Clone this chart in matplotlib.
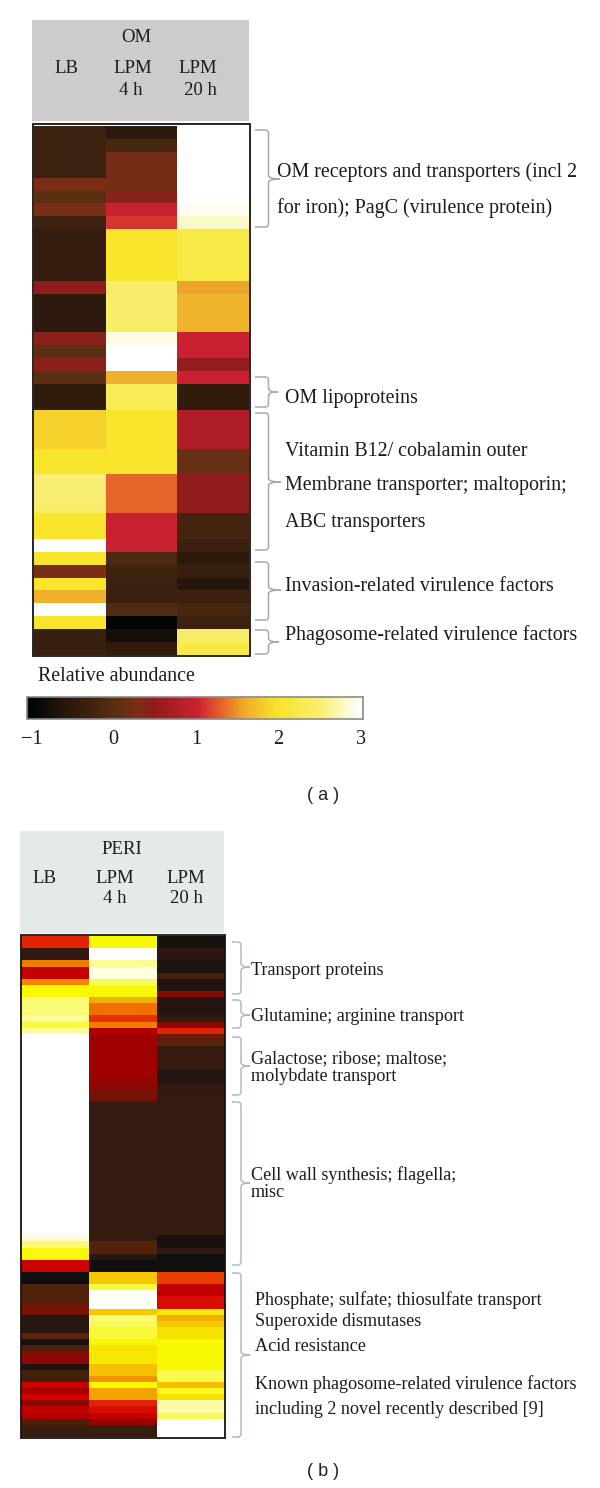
import numpy as np
import matplotlib
matplotlib.use('Agg')
import matplotlib.pyplot as plt
from matplotlib.colors import LinearSegmentedColormap, Normalize
from matplotlib.patches import PathPatch, Rectangle
from matplotlib.path import Path

W, H = 600, 1488
SERIF = 'Liberation Serif'

conditions = ['LB', 'LPM', 'LPM']
times = ['', '4 h', '20 h']

# panel (a), 41 proteins, top to bottom
om_lb = [-0.3, -0.3, -0.3, -0.3, 0.25, 0.0, 0.25, -0.3, -0.45, -0.45, -0.45, -0.45, 0.5, -0.55,
         -0.55, -0.55, 0.45, 0.0, 0.45, 0.0, -0.5, -0.5, 1.85, 1.85, 1.85, 2.0, 2.0, 2.5, 2.5, 2.45,
         2.0, 2.0, 3.0, 2.0, 0.25, 2.0, 1.6, 3.0, 2.0, -0.4, -0.4]
om_4h = [-0.55, -0.2, 0.2, 0.2, 0.2, 0.4, 1.0, 1.1, 2.0, 2.0, 2.0, 2.0, 2.45, 2.45,
         2.45, 2.45, 2.9, 3.0, 3.0, 1.6, 2.3, 2.3, 2.0, 2.0, 2.0, 2.0, 2.0, 1.3, 1.3, 1.3,
         1.0, 1.0, 1.0, -0.15, -0.3, -0.3, -0.35, -0.1, -1.0, -0.8, -0.5]
om_20h = [3.0, 3.0, 3.0, 3.0, 3.0, 3.0, 2.95, 2.8, 2.2, 2.2, 2.2, 2.2, 1.55, 1.65,
          1.65, 1.65, 1.0, 1.0, 0.55, 1.0, -0.5, -0.5, 0.75, 0.75, 0.75, 0.1, 0.1, 0.5, 0.5, 0.5,
          -0.25, -0.25, -0.35, -0.55, -0.4, -0.65, -0.35, -0.2, -0.3, 2.45, 2.2]

# panel (b), 82 proteins, top to bottom
peri_lb = [0.95, 0.95, -0.4, -0.4, 1.35, 0.7, 0.7, 1.4, 2.0, 2.0, 2.4, 2.4, 2.4, 2.55, 2.2, 2.55,
           3.0, 3.0, 3.0, 3.0, 3.0, 3.0, 3.0, 3.0, 3.0, 3.0, 3.0, 3.0, 3.0, 3.0, 3.0, 3.0,
           3.0, 3.0, 3.0, 3.0, 3.0, 3.0, 3.0, 3.0, 3.0, 3.0, 3.0, 3.0, 3.0, 3.0, 3.0, 3.0,
           3.0, 2.8, 2.4, 2.05, 2.0, 0.75, 0.75, -0.95, -0.95, -0.1, -0.1, -0.1, 0.2, 0.2, -0.55, -0.55,
           -0.55, 0.0, -0.8, -0.1, 0.35, 0.35, -0.7, -0.2, -0.2, 0.75, 0.55, 0.8, 0.3, 0.7, 0.6, -0.1,
           -0.3, -0.3]
peri_4h = [2.0, 2.0, 3.0, 3.0, 2.5, 2.85, 2.85, 2.3, 2.0, 2.0, 1.55, 1.3, 1.3, 1.0, 1.35, 0.6,
           0.5, 0.5, 0.5, 0.5, 0.5, 0.5, 0.5, 0.38, 0.38, 0.2, 0.2, -0.35, -0.35, -0.35, -0.35, -0.35,
           -0.35, -0.35, -0.35, -0.35, -0.35, -0.35, -0.35, -0.35, -0.35, -0.35, -0.35, -0.35, -0.35, -0.35, -0.35, -0.35,
           -0.35, -0.35, -0.05, -0.05, -0.55, -0.95, -0.95, 1.7, 1.7, 2.2, 2.95, 2.95, 2.95, 1.7, 2.4, 2.3,
           2.2, 2.2, 2.0, 1.85, 1.9, 1.9, 1.65, 1.65, 1.45, 2.0, 1.5, 1.5, 0.95, 0.85, 0.7, 0.45,
           -0.3, -0.3]
peri_20h = [-0.85, -0.85, -0.5, -0.5, -0.7, -0.7, -0.2, -0.75, -0.6, 0.3, -0.6, -0.6, -0.6, -0.4, 0.35, 0.95,
            0.1, 0.0, -0.35, -0.35, -0.35, -0.35, -0.6, -0.6, -0.4, -0.4, -0.35, -0.35, -0.35, -0.35, -0.35, -0.35,
            -0.35, -0.35, -0.35, -0.35, -0.35, -0.35, -0.35, -0.35, -0.35, -0.35, -0.35, -0.35, -0.35, -0.35, -0.35, -0.35,
            -0.35, -0.8, -0.8, -0.45, -0.95, -0.95, -0.95, 1.05, 1.05, 0.7, 0.7, 0.85, 0.85, 1.9, 1.55, 1.7,
            1.85, 1.85, 2.0, 2.0, 2.0, 2.0, 2.0, 2.25, 2.25, 1.65, 2.1, 1.85, 2.6, 2.6, 2.3, 3.0,
            3.0, 3.0]

cbar_ticks = [-1, 0, 1, 2, 3]

colors_a = [(-1, '#050508'), (-0.6, '#2a180c'), (-0.3, '#3f2210'), (0, '#5a3012'), (0.25, '#7a2e16'),
            (0.5, '#8f1d1c'), (0.8, '#b51f2a'), (1.0, '#c91f30'), (1.3, '#e5642a'), (1.6, '#f0ae2c'),
            (2.0, '#f8e52a'), (2.5, '#f8ee70'), (3.0, '#ffffff')]
colors_b = [(-1, '#0e0e0e'), (-0.6, '#251510'), (-0.3, '#3a1c10'), (0, '#5a2408'), (0.3, '#850a05'),
            (0.5, '#a00000'), (0.8, '#d40000'), (1.0, '#e63000'), (1.3, '#f07000'), (1.6, '#f5b800'),
            (2.0, '#f8f800'), (2.5, '#fbfb90'), (3.0, '#ffffff')]


def make_cmap(name, stops):
    return LinearSegmentedColormap.from_list(name, [((v + 1) / 4, c) for v, c in stops])


cmap_a = make_cmap('om', colors_a)
cmap_b = make_cmap('peri', colors_b)
norm = Normalize(-1, 3)

fig = plt.figure(figsize=(W / 100, H / 100), dpi=100, facecolor='white')


def px_axes(x0, y0, x1, y1, **kw):
    return fig.add_axes([x0 / W, 1 - y1 / H, (x1 - x0) / W, (y1 - y0) / H], **kw)


def heatmap(box, columns, cmap):
    ax = px_axes(*box)
    ax.pcolormesh(np.array(columns).T, cmap=cmap, norm=norm, rasterized=True)
    ax.invert_yaxis()
    ax.set_xticks([])
    ax.set_yticks([])
    for s in ax.spines.values():
        s.set_visible(False)
    return ax


heatmap((34, 126, 249, 655), [om_lb, om_4h, om_20h], cmap_a)
heatmap((21, 936, 225, 1437), [peri_lb, peri_4h, peri_20h], cmap_b)

# overlay in pixel coordinates for boxes, braces and labels
over = fig.add_axes([0, 0, 1, 1], facecolor='none')
over.set_xlim(0, W)
over.set_ylim(H, 0)
over.axis('off')

over.add_patch(Rectangle((32, 20), 217, 101, fc='#cdcbcb', ec='none'))
over.add_patch(Rectangle((20, 831), 204, 102, fc='#e4eae8', ec='none'))
over.add_patch(Rectangle((33, 124), 216.5, 531.5, fc='none', ec='#141414', lw=1.3))
over.add_patch(Rectangle((20.5, 935), 204.5, 502.5, fc='none', ec='#141414', lw=1.3))


def brace(x0, spine, tip, top, mid, bottom, color):
    r = 3.5
    verts = [(x0, top), (spine - r, top), (spine, top), (spine, top + r),
             (spine, mid - r), (spine, mid), (tip, mid),
             (spine, mid), (spine, mid + r),
             (spine, bottom - r), (spine, bottom), (spine - r, bottom), (x0, bottom)]
    codes = [Path.MOVETO, Path.LINETO, Path.CURVE3, Path.CURVE3,
             Path.LINETO, Path.CURVE3, Path.CURVE3,
             Path.CURVE3, Path.CURVE3,
             Path.LINETO, Path.CURVE3, Path.CURVE3, Path.LINETO]
    over.add_patch(PathPatch(Path(verts, codes), fc='none', ec=color, lw=1.1))


for top, mid, bottom, tip in [(130, 179, 227, 280), (377, 392, 407, 278), (413, 482, 550, 281),
                              (562, 590, 620, 281), (630, 642, 654, 279)]:
    brace(255, 268.5, tip, top, mid, bottom, '#a9a9a9')
for top, mid, bottom in [(942, 967, 994), (1000, 1015, 1028), (1037, 1066, 1095),
                         (1102, 1183, 1265), (1273, 1355, 1437)]:
    brace(232, 241, 250, top, mid, bottom, '#aebcbc')


def label(x, y, s, size=12.5, **kw):
    kw.setdefault('va', 'baseline')
    kw.setdefault('ha', 'left')
    over.text(x, y, s, family=SERIF, fontsize=size, color='#1c1c1c', **kw)


def header(title, tx, ty, xs, xs2, y1, y2):
    label(tx, ty, title, size=13.5, ha='center')
    for x, c in zip(xs, conditions):
        label(x, y1, c, size=13.5, ha='center')
    for x, t in zip(xs2, times):
        if t:
            label(x, y2, t, size=13.5, ha='center')


header('OM', 136, 42, [66, 133, 198], [66, 131, 200], 73, 95)
header('PERI', 122, 854, [44, 115, 186], [44, 115, 186], 883, 903)

labels_a = [(277, 177, 'OM receptors and transporters (incl 2'),
            (277, 213, 'for iron); PagC (virulence protein)'),
            (285, 403, 'OM lipoproteins'),
            (285, 456, 'Vitamin B12/ cobalamin outer'),
            (285, 490, 'Membrane transporter; maltoporin;'),
            (285, 527, 'ABC transporters'),
            (285, 591, 'Invasion-related virulence factors'),
            (285, 640, 'Phagosome-related virulence factors'),
            (38, 681, 'Relative abundance')]
labels_b = [(251, 975, 'Transport proteins'),
            (251, 1021, 'Glutamine; arginine transport'),
            (251, 1063, 'Galactose; ribose; maltose;'),
            (251, 1081, 'molybdate transport'),
            (251, 1180, 'Cell wall synthesis; flagella;'),
            (251, 1197, 'misc'),
            (255, 1305, 'Phosphate; sulfate; thiosulfate transport'),
            (255, 1326, 'Superoxide dismutases'),
            (255, 1351, 'Acid resistance'),
            (255, 1389, 'Known phagosome-related virulence factors'),
            (255, 1414, 'including 2 novel recently described [9]')]
for x, y, s in labels_a:
    label(x, y, s, size=14.4)
for x, y, s in labels_b:
    label(x, y, s, size=13.1)

over.text(323, 795, '( a )', family='Liberation Sans', fontsize=13, ha='center', va='center', color='#222222')
over.text(323, 1472, '( b )', family='Liberation Sans', fontsize=13, ha='center', va='center', color='#222222')

# colour bar
cax = px_axes(26.5, 697, 363, 719)
cax.imshow(np.linspace(-1.06, 3.03, 512)[None, :], aspect='auto', cmap=cmap_a, norm=norm,
           extent=[-1.06, 3.03, 0, 1], interpolation='bilinear')
cax.set_yticks([])
cax.set_xticks(cbar_ticks)
cax.set_xticklabels(['\u22121', '0', '1', '2', '3'], family=SERIF, fontsize=14.5, color='#1c1c1c')
cax.tick_params(axis='x', length=0, pad=8)
for s in cax.spines.values():
    s.set_color('#8a8a8a')
    s.set_linewidth(1.2)

fig.savefig('out.png', dpi=100)
